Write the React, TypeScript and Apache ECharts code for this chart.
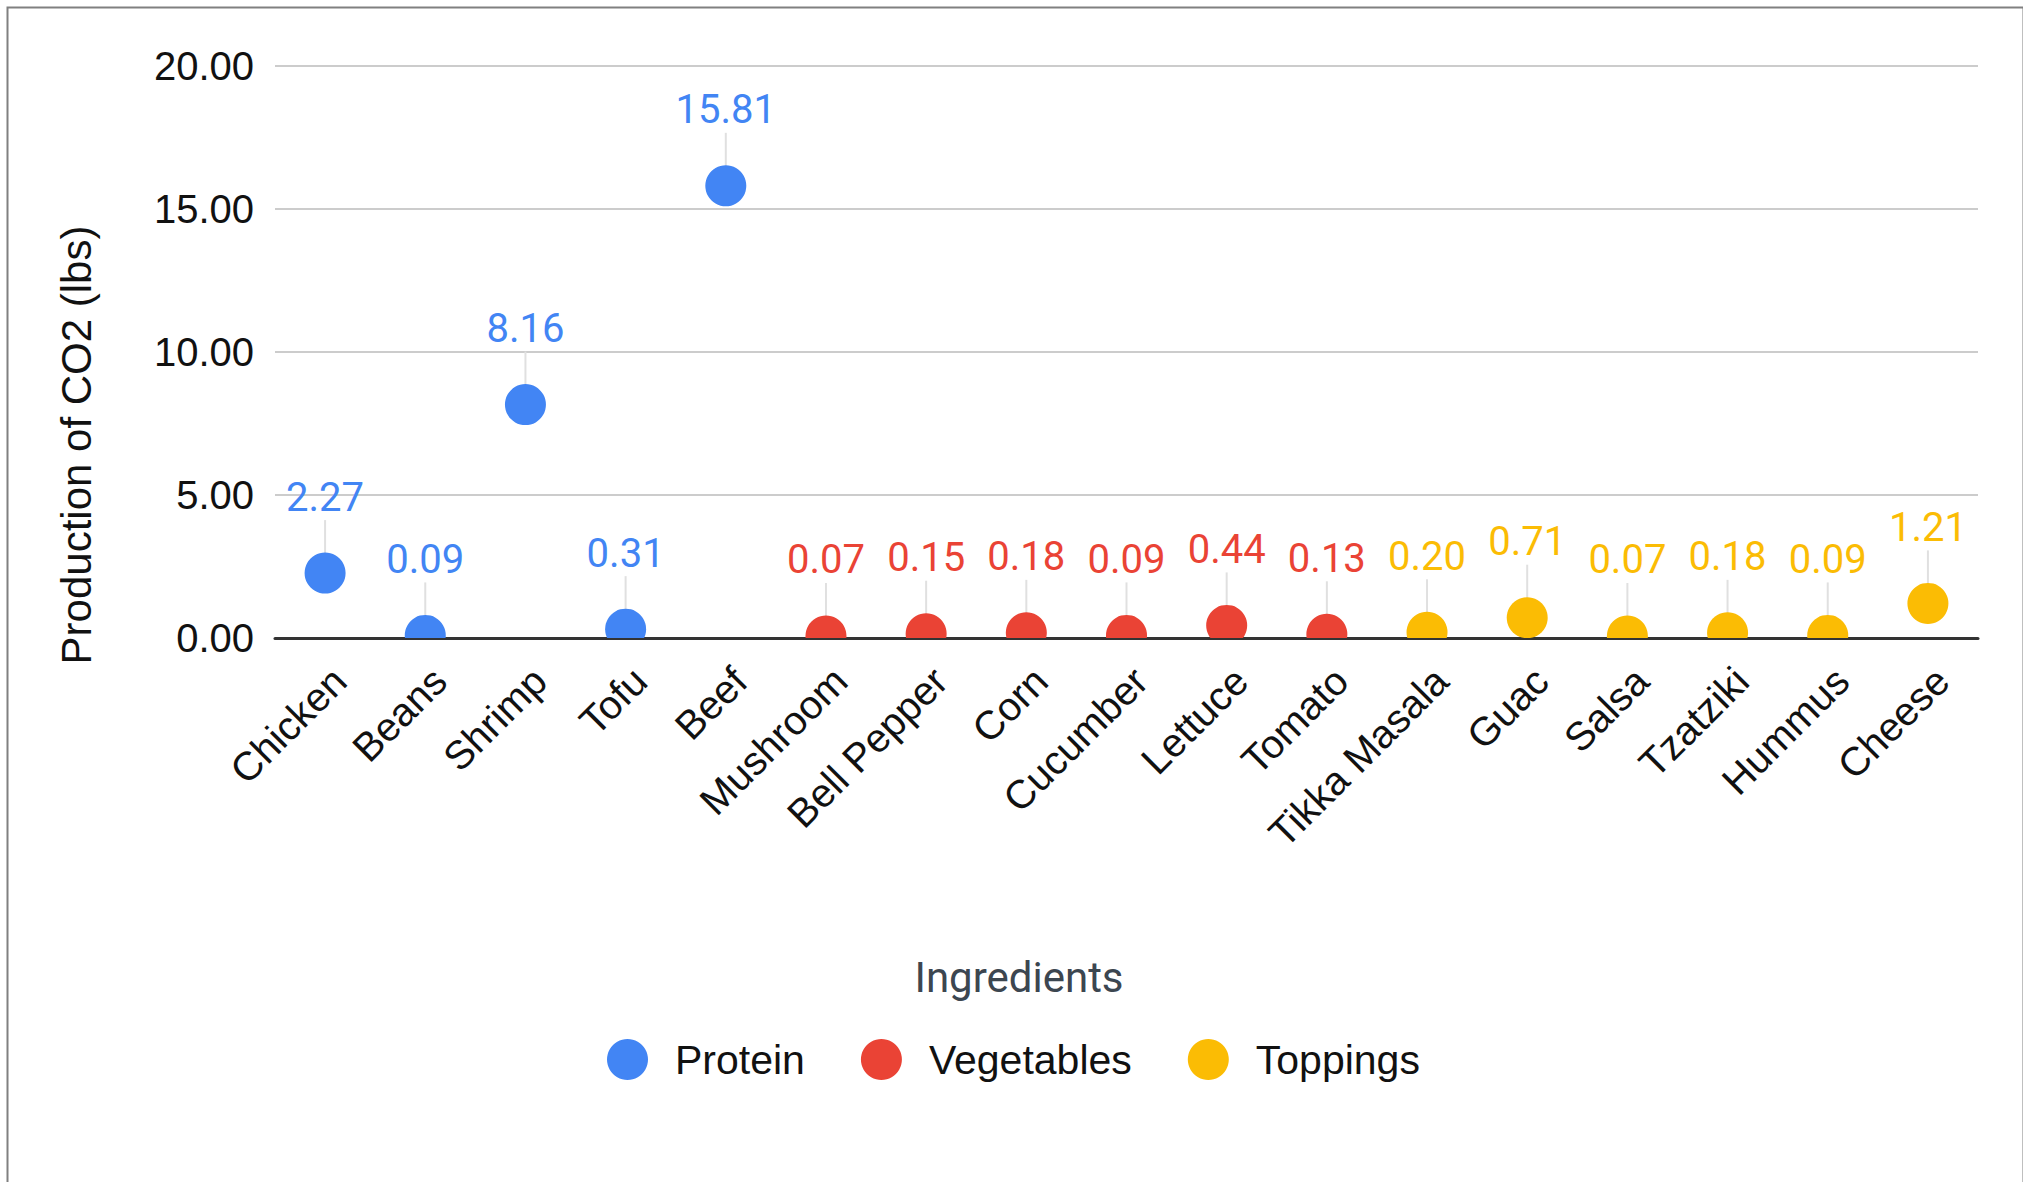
import React, { useEffect, useRef } from "react";
import * as echarts from "echarts";

const categories = [
  "Chicken", "Beans", "Shrimp", "Tofu", "Beef",
  "Mushroom", "Bell Pepper", "Corn", "Cucumber", "Lettuce", "Tomato",
  "Tikka Masala", "Guac", "Salsa", "Tzatziki", "Hummus", "Cheese",
];
const values = [
  2.27, 0.09, 8.16, 0.31, 15.81,
  0.07, 0.15, 0.18, 0.09, 0.44, 0.13,
  0.2, 0.71, 0.07, 0.18, 0.09, 1.21,
];
const groups = [
  "Protein", "Protein", "Protein", "Protein", "Protein",
  "Vegetables", "Vegetables", "Vegetables", "Vegetables", "Vegetables", "Vegetables",
  "Toppings", "Toppings", "Toppings", "Toppings", "Toppings", "Toppings",
];
const seriesNames = ["Protein", "Vegetables", "Toppings"];
const seriesColors = ["#4285F4", "#EA4335", "#FBBC04"];
const yTicks = [0, 5, 10, 15, 20];

const AXIS_FONT = "'Liberation Sans', Arial, sans-serif";

export default function App() {
  const ref = useRef<HTMLDivElement>(null);

  useEffect(() => {
    if (!ref.current) return;
    const chart = echarts.init(ref.current, null, { renderer: "svg" });

    const series = seriesNames.map((name, si) => {
      const color = seriesColors[si];
      const data = categories
        .map((_, i) => (groups[i] === name ? [i, values[i]] : null))
        .filter((d) => d !== null);
      return {
        name,
        type: "custom",
        clip: true,
        itemStyle: { color },
        encode: { x: 0, y: 1 },
        data,
        renderItem: (params: any, api: any) => {
          const xi = api.value(0);
          const v = api.value(1);
          const pt = api.coord([xi, v]);
          const cx = pt[0];
          const cy = pt[1];
          const r = 20.5;
          return {
            type: "group",
            children: [
              {
                type: "line",
                shape: { x1: cx, y1: cy - r + 2, x2: cx, y2: cy - 53 },
                style: { stroke: "#e0e0e0", lineWidth: 2 },
              },
              {
                type: "circle",
                shape: { cx, cy, r },
                style: { fill: color },
              },
              {
                type: "text",
                x: cx,
                y: cy - 76,
                style: {
                  text: Number(v).toFixed(2),
                  fill: color,
                  fontSize: 40,
                  fontFamily: "Roboto",
                  align: "center",
                  verticalAlign: "middle",
                },
              },
            ],
          };
        },
      };
    });

    chart.setOption({
      animation: false,
      backgroundColor: "#ffffff",
      grid: { left: 275, right: 45, top: 66, height: 572 },
      xAxis: {
        type: "category",
        data: categories,
        boundaryGap: true,
        axisLine: { show: true, lineStyle: { color: "#333333", width: 3 } },
        axisTick: { show: false },
        splitLine: { show: false },
        axisLabel: {
          interval: 0,
          rotate: 45,
          margin: 22,
          verticalAlign: "top",
          color: "#111111",
          fontSize: 40,
          fontFamily: AXIS_FONT,
        },
      },
      yAxis: {
        type: "value",
        min: yTicks[0],
        max: yTicks[yTicks.length - 1],
        interval: yTicks[1] - yTicks[0],
        axisLine: { show: false },
        axisTick: { show: false },
        splitLine: { show: true, lineStyle: { color: "#cccccc", width: 2 } },
        axisLabel: {
          margin: 21,
          color: "#111111",
          fontSize: 40,
          fontFamily: AXIS_FONT,
          formatter: (v: number) => v.toFixed(2),
        },
      },
      legend: {
        left: 607,
        top: 1039,
        padding: 0,
        itemWidth: 41,
        itemHeight: 41,
        itemGap: 56,
        icon: "circle",
        data: seriesNames.map((n) => ({ name: n, icon: "circle" })),
        textStyle: {
          color: "#111111",
          fontSize: 41,
          fontFamily: AXIS_FONT,
          padding: [0, 0, 0, 22],
        },
      },
      graphic: [
        {
          type: "rect",
          left: 5,
          top: 5,
          shape: { x: 0, y: 0, width: 2016, height: 1220 },
          style: { fill: "none", stroke: "#808080", lineWidth: 2 },
          silent: true,
          z: -10,
        },
        {
          type: "text",
          x: 76,
          y: 445,
          rotation: Math.PI / 2,
          style: {
            text: "Production of CO2 (lbs)",
            fill: "#111111",
            fontSize: 42,
            fontFamily: AXIS_FONT,
            align: "center",
            verticalAlign: "middle",
          },
        },
        {
          type: "text",
          x: 1019,
          y: 977,
          style: {
            text: "Ingredients",
            fill: "#3c4650",
            fontSize: 42,
            fontFamily: "Roboto",
            align: "center",
            verticalAlign: "middle",
          },
        },
      ],
      series,
    });

    return () => chart.dispose();
  }, []);

  return (
    <div
      ref={ref}
      style={{ position: "fixed", left: 0, top: 0, width: 2023, height: 1182 }}
    />
  );
}
